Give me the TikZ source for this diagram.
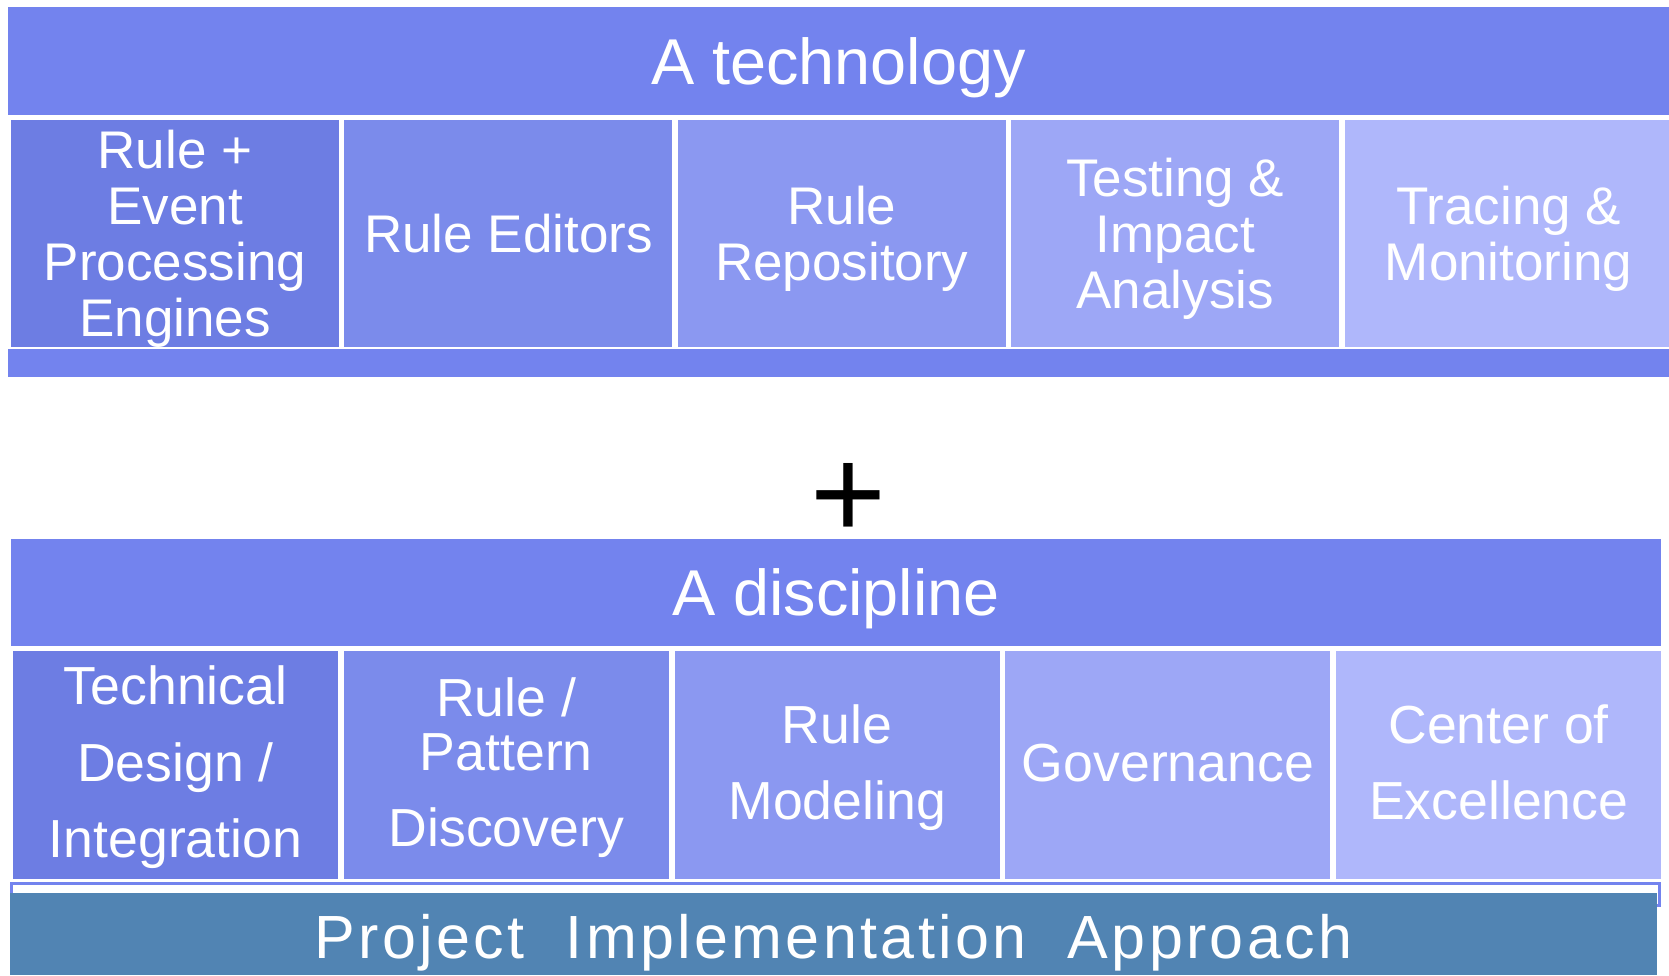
\documentclass[tikz,border=0pt]{standalone}
\usepackage{fontspec}
\setmainfont{Liberation Sans}
\usetikzlibrary{positioning}
\definecolor{barblue}{HTML}{7383EE}
\definecolor{cellA}{HTML}{6D7DE3}
\definecolor{cellB}{HTML}{7B8BEB}
\definecolor{cellC}{HTML}{8B98F1}
\definecolor{cellD}{HTML}{9DA7F6}
\definecolor{cellE}{HTML}{AFB7FB}
\definecolor{projblue}{HTML}{5184B3}
\begin{document}
\begin{tikzpicture}[x=0.5pt, y=-0.5pt, node distance=2.3pt,
                    bar/.style={fill=barblue, inner sep=0, text=white, text height=23.2pt, text depth=0pt, font=\fontsize{32.4}{40}\selectfont},
                    cell/.style={inner sep=0, align=center, text=white, minimum width=164pt, minimum height=113.5pt, text depth=0pt, font=\fontsize{26.5}{28}\selectfont, execute at begin node=\vphantom{l}},
                    dcell/.style={cell, minimum width=162.5pt, minimum height=114pt, text depth=3pt, font=\fontsize{26.8}{38.25}\selectfont},
                    blank/.style={fill=barblue, inner sep=0}]
  \useasboundingbox (0,0) rectangle (1669,975);
  \node(tech)[bar, minimum width=830.5pt, minimum height=54pt] at (838.5,61) {A technology};
  \node(engines)[cell, fill=cellA] at (175,233.5) {Rule +\\Event\\Processing\\Engines};
  \node(editors)[cell, fill=cellB, right=of engines] {Rule Editors};
  \node(repo)[cell, fill=cellC, right=of editors] {Rule\\Repository};
  \node(testing)[cell, fill=cellD, right=of repo] {Testing \&\\Impact\\Analysis};
  \node(tracing)[cell, fill=cellE, right=of testing] {Tracing \&\\Monitoring};
  \node(strip)[blank, minimum width=830.5pt, minimum height=14pt] at (838.5,363) {};
  \node(plus)[anchor=base, inner sep=0, font=\fontsize{65}{66}\selectfont] at (848,538) {+};
  \node(disc)[bar, minimum width=825pt, minimum height=53.5pt] at (836,592.5) {A discipline};
  \node(techdesign)[dcell, fill=cellA] at (175.5,765) {Technical\\Design /\\Integration};
  \node(pattern)[dcell, fill=cellB, right=2.5pt of techdesign] {Rule /\\[-11.25pt]Pattern\\Discovery};
  \node(modeling)[dcell, fill=cellC, right=2.5pt of pattern] {Rule\\Modeling};
  \node(gov)[dcell, fill=cellD, right=2.5pt of modeling] {Governance};
  \node(coe)[dcell, fill=cellE, right=2.5pt of gov] {Center of\\Excellence};
  \node(frame)[draw=barblue, line width=1.5pt, inner sep=0, minimum width=824.25pt, minimum height=10.75pt] at (835.25,894.25) {};
  \node(proj)[blank, fill=projblue, minimum width=823.5pt, minimum height=41pt] at (833.5,934) {};
  \node(projtext)[anchor=base, inner sep=0, text=white, font=\fontsize{30.5}{36}\selectfont\addfontfeature{LetterSpace=5.5}] at (833.5,958) {Project \hspace{10.5pt}Implementation \hspace{10.5pt}Approach};
\end{tikzpicture}
\end{document}
